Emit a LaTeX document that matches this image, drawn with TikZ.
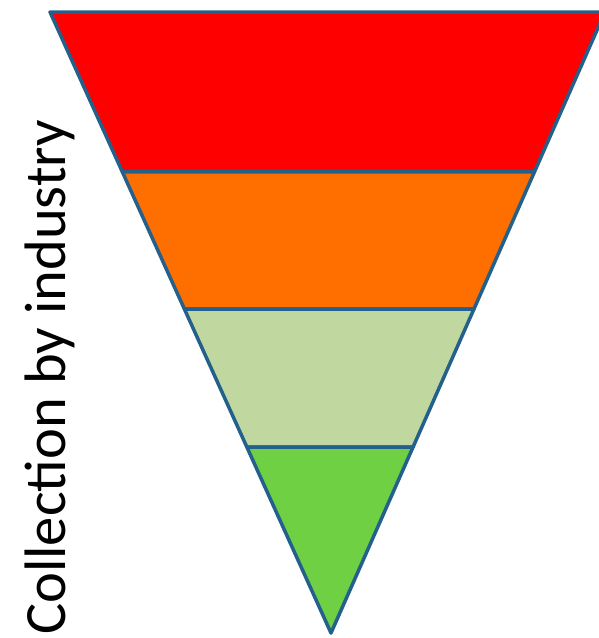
\documentclass[tikz,border=0pt]{standalone}
\usepackage{fontspec}
\setmainfont{Carlito}
\usetikzlibrary{calc}
\usepackage{xcolor}
\definecolor{level1}{RGB}{255, 0, 0}
\definecolor{level2}{RGB}{255, 111, 0}
\definecolor{level3}{RGB}{192, 216, 160}
\definecolor{level4}{RGB}{110, 208, 66}
\definecolor{rim}{RGB}{36, 96, 140}

\begin{document}
\begin{tikzpicture}[
    x=1pt, y=-1pt,
    band/.style={draw=rim, line width=3.5pt, line join=round},
    caption/.style={rotate=90, anchor=base west, inner sep=0pt, font=\fontsize{58.5}{60}\selectfont}
]
\useasboundingbox (0,0) rectangle (599,638);

% Corners
\coordinate (apex) at (331,633);
\coordinate (tl) at (50,12);
\coordinate (tr) at (605,12);

% Band edges
\coordinate (l1) at ($(apex)!0.7424!(tl)$);
\coordinate (r1) at ($(apex)!0.7424!(tr)$);
\coordinate (l2) at ($(apex)!0.5217!(tl)$);
\coordinate (r2) at ($(apex)!0.5217!(tr)$);
\coordinate (l3) at ($(apex)!0.2995!(tl)$);
\coordinate (r3) at ($(apex)!0.2995!(tr)$);

% Bands
\filldraw[band, fill=level1] (tl) -- (tr) -- (r1) -- (l1) -- cycle;
\filldraw[band, fill=level2] (l1) -- (r1) -- (r2) -- (l2) -- cycle;
\filldraw[band, fill=level3] (l2) -- (r2) -- (r3) -- (l3) -- cycle;
\filldraw[band, fill=level4] (l3) -- (r3) -- (apex) -- cycle;

% Label
\node[caption] (label) at (65,635) {Collection by industry};

\end{tikzpicture}
\end{document}
